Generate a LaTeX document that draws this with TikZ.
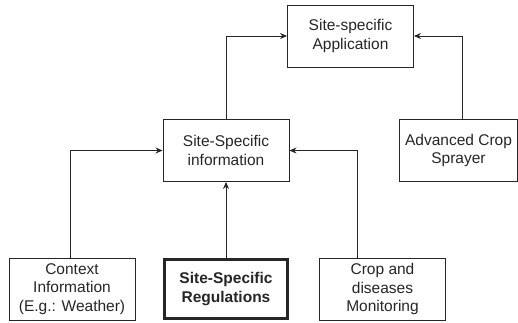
\documentclass[tikz,border=0pt]{standalone}
\usepackage{fontspec}
\setmainfont{Liberation Sans}
\usetikzlibrary{arrows.meta}
\begin{document}
\begin{tikzpicture}[x=1pt,y=-1pt,
  box/.style={draw=black!85, line width=0.9pt, fill=white, minimum width=126pt, minimum height=62pt,
    align=center, inner sep=0pt, font=\fontsize{15.5}{18.5}\selectfont, text=black!85},
  boldbox/.style={box, line width=2.6pt, font=\fontsize{15.5}{18.5}\selectfont\bfseries},
  link/.style={draw=black!85, line width=0.9pt, -{Stealth[length=7pt,width=6pt]}}]
\useasboundingbox (0,0) rectangle (518,322);
% nodes (centres in pixel-like units)
\node[box] (app) at (350.5,36) {Site-specific\\Application};
\node[box] (info) at (226,150.5) {Site-Specific\\information};
\node[box, minimum width=117.5pt] (spray) at (458.5,150.5) {Advanced Crop\\Sprayer};
\node[box] (ctx) at (72,289) {Context\\Information\\(E.g.: Weather)};
\node[boldbox, minimum width=123pt, minimum height=59pt] (reg) at (226,289) {Site-Specific\\Regulations};
\node[box] (crop) at (382.5,289) {Crop and\\diseases\\Monitoring};
% connectors
\coordinate (c1) at (70,150.5);
\coordinate (c2) at (357,150.5);
\coordinate (c3) at (226,36);
\coordinate (c4) at (462,36);
\draw[link] (ctx.north -| c1) |- (info.west);
\draw[link] (crop.north -| c2) |- (info.east);
\draw[link] (reg.north) -- (info.south);
\draw[link] (info.north) |- (app.west);
\draw[link] (spray.north -| c4) |- (app.east);
\end{tikzpicture}
\end{document}
